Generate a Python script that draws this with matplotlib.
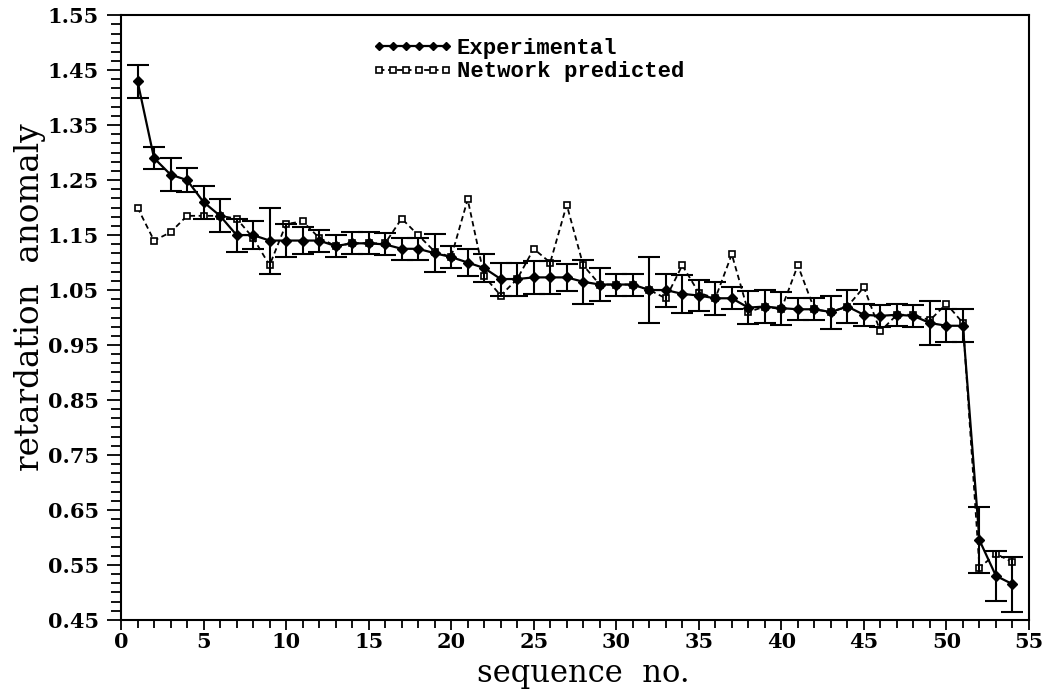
import numpy as np
import matplotlib
matplotlib.use("Agg")
import matplotlib.pyplot as plt
from matplotlib.ticker import MultipleLocator, FormatStrFormatter, AutoMinorLocator

seq = list(range(1, 55))
experimental = [1.43, 1.29, 1.26, 1.25, 1.21, 1.185, 1.15, 1.15, 1.14, 1.14,
                1.14, 1.14, 1.13, 1.135, 1.135, 1.133, 1.125, 1.125, 1.117, 1.11,
                1.10, 1.09, 1.07, 1.07, 1.073, 1.073, 1.073, 1.065, 1.06, 1.06,
                1.06, 1.05, 1.05, 1.043, 1.04, 1.035, 1.035, 1.018, 1.02, 1.017,
                1.015, 1.015, 1.01, 1.02, 1.005, 1.003, 1.005, 1.003, 0.99, 0.985,
                0.985, 0.595, 0.53, 0.515]
exp_err = [0.03, 0.02, 0.03, 0.022, 0.03, 0.03, 0.03, 0.026, 0.06, 0.03,
           0.025, 0.02, 0.02, 0.02, 0.02, 0.02, 0.02, 0.02, 0.035, 0.02,
           0.025, 0.025, 0.03, 0.03, 0.03, 0.03, 0.025, 0.04, 0.03, 0.02,
           0.02, 0.06, 0.03, 0.035, 0.028, 0.03, 0.02, 0.03, 0.03, 0.03,
           0.02, 0.02, 0.03, 0.03, 0.02, 0.02, 0.02, 0.02, 0.04, 0.03,
           0.03, 0.06, 0.045, 0.05]
network = [1.20, 1.14, 1.155, 1.185, 1.185, 1.185, 1.18, 1.145, 1.095, 1.17,
           1.175, 1.145, 1.13, 1.135, 1.135, 1.135, 1.18, 1.15, 1.12, 1.11,
           1.215, 1.075, 1.04, 1.07, 1.125, 1.10, 1.205, 1.095, 1.06, 1.06,
           1.06, 1.05, 1.035, 1.095, 1.045, 1.035, 1.115, 1.01, 1.02, 1.015,
           1.095, 1.015, 1.01, 1.02, 1.055, 0.975, 1.005, 1.005, 0.995, 1.025,
           0.99, 0.545, 0.57, 0.555]
yticks = [0.45, 0.55, 0.65, 0.75, 0.85, 0.95, 1.05, 1.15, 1.25, 1.35, 1.45, 1.55]

fig = plt.figure(figsize=(10.46, 6.91), dpi=100)
ax = fig.add_axes([0.1157, 0.103, 0.868, 0.875])

ax.plot(seq, network, linestyle=(0, (3, 2)), color="black", lw=1.3,
        marker="s", markersize=4, markerfacecolor="white", markeredgecolor="black",
        markeredgewidth=1.2, label="Network predicted", zorder=2)
ax.errorbar(seq, experimental, yerr=exp_err, fmt="-", color="black", lw=1.6,
            marker="D", markersize=5, markerfacecolor="black",
            elinewidth=1.5, capsize=8, capthick=1.5, zorder=3)
ax.plot([], [], "-", color="black", lw=1.6, marker="D", markersize=4,
        label="Experimental")

ax.set_xlim(0, 55)
ax.set_ylim(0.45, 1.55)
ax.xaxis.set_major_locator(MultipleLocator(5))
ax.xaxis.set_minor_locator(MultipleLocator(1))
ax.set_yticks(yticks)
ax.yaxis.set_minor_locator(AutoMinorLocator(6))
ax.yaxis.set_major_formatter(FormatStrFormatter("%.2f"))
ax.tick_params(which="both", direction="out", top=False, right=False, width=1.3)
ax.tick_params(axis="y", which="major", length=10, pad=6)
ax.tick_params(axis="y", which="minor", length=7)
ax.tick_params(axis="x", which="major", length=7, pad=2)
ax.tick_params(axis="x", which="minor", length=6)
for lab in ax.get_xticklabels() + ax.get_yticklabels():
    lab.set_fontfamily("DejaVu Serif")
    lab.set_fontweight("bold")
    lab.set_fontsize(15)

for sp in ax.spines.values():
    sp.set_linewidth(1.5)

ax.set_xlabel("sequence  no.", fontsize=22, fontfamily="DejaVu Serif",
              fontweight="normal")
ax.set_ylabel("retardation  anomaly", fontsize=23.5, fontfamily="DejaVu Serif",
              fontweight="normal")
ax.xaxis.set_label_coords(0.509, -0.088)
ax.xaxis.label.set_va("center")
ax.yaxis.set_label_coords(-0.100, 0.534)
ax.yaxis.label.set_va("center")

handles, labels = ax.get_legend_handles_labels()
order = [1, 0]
leg = ax.legend([handles[i] for i in order], [labels[i] for i in order],
                loc="upper left", bbox_to_anchor=(0.255, 0.995), frameon=False,
                numpoints=6, handlelength=3.6, handletextpad=0.2,
                labelspacing=0.1,
                prop={"family": "Liberation Mono", "weight": "bold", "size": 16})

fig.savefig("out.png", dpi=100)
